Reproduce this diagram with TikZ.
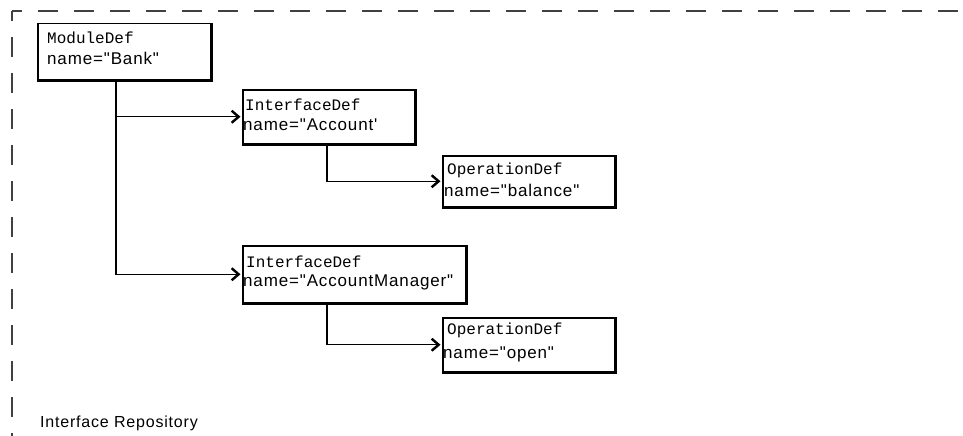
\documentclass[tikz,border=0pt]{standalone}
\usepackage{fontspec}
\setmainfont{Liberation Sans}[Ligatures=TeXOff, LetterSpace=5]
\newfontfamily\monof{Liberation Mono}[Ligatures=TeXOff]
\usetikzlibrary{arrows.meta}
\begin{document}
\begin{tikzpicture}[x=1pt,y=-1pt,
  box/.style={draw, line width=1.5pt, inner sep=0pt, anchor=north west},
  tmono/.style={anchor=base west, inner sep=0pt, font=\monof\fontsize{16}{16}\selectfont},
  tsans/.style={anchor=base west, inner sep=0pt, font=\fontsize{17}{17}\selectfont},
  shadowline/.style={line width=3pt},
  conn/.style={line width=1.4pt, -{Straight Barb[length=7pt,width=12pt,line width=2.4pt]}, shorten >=1.5pt},
  frame/.style={draw=black!75, line width=2pt, dash pattern=on 20pt off 16pt, dash phase=10pt}]
\useasboundingbox (0,0) rectangle (963,436);
\fill[white] (0,0) rectangle (963,436);
% frame
\draw[frame] (12,11) -- (963,11);
\draw[frame] (12,11) -- (12,436);
% boxes
\node[box, minimum width=173pt, minimum height=56pt] (mod) at (37,23) {};
\node[box, minimum width=172pt, minimum height=54pt] (acc) at (242,89) {};
\node[box, minimum width=172pt, minimum height=51pt] (bal) at (442,155) {};
\node[box, minimum width=223pt, minimum height=57pt] (mgr) at (242,245) {};
\node[box, minimum width=172pt, minimum height=54pt] (opn) at (442,317) {};
\foreach \n in {mod,acc,bal,mgr,opn}{
  \draw[shadowline] (\n.south west) -- (\n.south east) -- (\n.north east);
}
% texts
\node[tmono] (modt) at (47,44) {ModuleDef};
\node[tsans] (modn) at (47,64) {name="Bank"};
\node[tmono] (acct) at (245,110) {InterfaceDef};
\node[tsans] (accn) at (243,130) {name="Account'};
\node[tmono] (balt) at (447,174) {OperationDef};
\node[tsans] (baln) at (444,196) {name="balance"};
\node[tmono] (mgrt) at (246,267) {InterfaceDef};
\node[tsans] (mgrn) at (243,286) {name="AccountManager"};
\node[tmono] (opnt) at (447,334) {OperationDef};
\node[tsans] (opnn) at (443,358) {name="open"};
\node[anchor=base west, inner sep=0pt, font=\fontsize{16}{16}\selectfont] (ir) at (40,427) {Interface Repository};
% connectors
\coordinate (m1) at (116,79);
\coordinate (a1) at (327,143);
\coordinate (g1) at (327,302);
\draw[conn] (m1) |- (acc.west);
\draw[conn] (m1) |- (mgr.west);
\draw[conn] (a1) |- (bal.west);
\draw[conn] (g1) |- (opn.west);
\end{tikzpicture}
\end{document}
